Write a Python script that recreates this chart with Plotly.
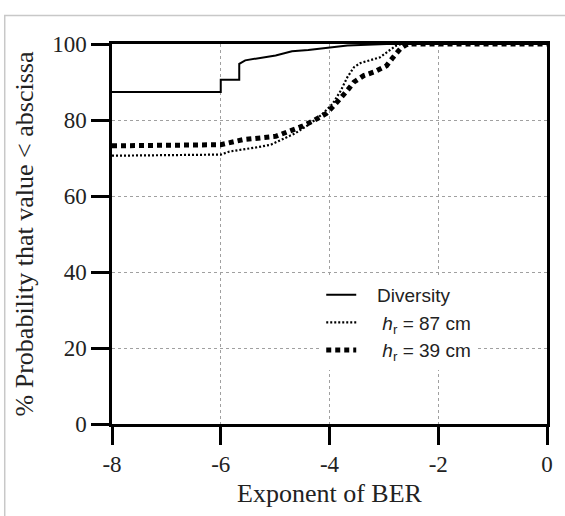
import plotly.graph_objects as go

# Diversity
div_x = [-8, -6, -6, -5.66, -5.66, -5.55, -4.99, -4.69, -4.39, -4.0, -3.67, -3.31, -2.95, 0]
div_y = [87.4, 87.4, 90.6, 90.6, 94.8, 95.7, 97.0, 98.1, 98.4, 99.0, 99.6, 99.8, 100, 100]

# h_r = 87 cm
h87_x = [-8, -6, -5.84, -5.6, -5.3, -5.08, -4.87, -4.63, -4.39, -4.15, -3.94, -3.79, -3.67,
         -3.55, -3.43, -3.25, -3.07, -2.92, -2.77, -2.67, 0]
h87_y = [70.6, 70.9, 71.7, 72.2, 72.9, 73.5, 74.8, 76.5, 78.7, 81.3, 84.3, 87.8, 91.3,
         93.9, 95.0, 95.7, 96.5, 98.1, 99.6, 100, 100]

# h_r = 39 cm
h39_x = [-8, -6, -5.6, -5.3, -4.99, -4.75, -4.51, -4.27, -4.06, -3.91, -3.79, -3.67, -3.55,
         -3.37, -3.19, -2.95, -2.83, -2.70, -2.61, -2.55, 0]
h39_y = [73.2, 73.5, 74.8, 75.2, 75.7, 77.0, 78.3, 80.0, 81.7, 83.9, 85.7, 87.8, 90.0,
         91.7, 92.6, 94.3, 96.5, 98.7, 99.6, 100, 100]

series_names = ["   Diversity",
                "    <i>h</i><sub>r</sub> = 87 cm",
                "    <i>h</i><sub>r</sub> = 39 cm"]

x_ticks = [-8, -6, -4, -2, 0]
y_ticks = [0, 20, 40, 60, 80, 100]

serif = "Liberation Serif, Times New Roman, serif"
sans = "Liberation Sans, Arial, sans-serif"

fig = go.Figure()
fig.add_trace(go.Scatter(x=div_x, y=div_y, mode="lines", name=series_names[0],
                         line=dict(color="black", width=2)))
fig.add_trace(go.Scatter(x=h87_x, y=h87_y, mode="lines", name=series_names[1],
                         line=dict(color="black", width=2.2, dash="2px,2px")))
fig.add_trace(go.Scatter(x=h39_x, y=h39_y, mode="lines", name=series_names[2],
                         line=dict(color="black", width=5, dash="5px,4px")))

axis_common = dict(
    showline=True, linecolor="black", linewidth=2.5, mirror=True,
    ticks="outside", ticklen=18, tickwidth=2.5, tickcolor="black",
    showgrid=True, gridcolor="#a0a0a0", gridwidth=1, griddash="dot",
    zeroline=False, tickfont=dict(family=serif, size=23, color="#222"),
)

fig.update_xaxes(range=[-8, 0], tickvals=x_ticks, ticktext=[str(v) for v in x_ticks],
                 title=dict(text="Exponent of BER", font=dict(family=serif, size=26, color="#222"),
                            standoff=8),
                 **axis_common)
fig.update_yaxes(range=[0, 100], tickvals=y_ticks, ticktext=[str(v) for v in y_ticks],
                 title=dict(text="% Probability that value < abscissa",
                            font=dict(family=serif, size=26, color="#222"), standoff=12),
                 **axis_common)

fig.add_shape(type="rect", xref="paper", yref="paper",
              x0=-0.2466, x1=1.06, y0=-0.27, y1=1.075,
              line=dict(color="#c8c8c8", width=1.5), fillcolor="rgba(0,0,0,0)", layer="below")

fig.update_layout(
    width=565, height=516,
    margin=dict(l=112, r=15, t=44, b=92, pad=0),
    plot_bgcolor="white", paper_bgcolor="white",
    showlegend=True,
    legend=dict(x=0.481, y=0.39, xanchor="left", yanchor="top",
                bgcolor="white", borderwidth=0,
                font=dict(family=sans, size=19, color="#222"),
                tracegroupgap=0),
)

fig.write_html("out.html", config={"displayModeBar": False},
               post_script="document.body.style.margin='0px';")
